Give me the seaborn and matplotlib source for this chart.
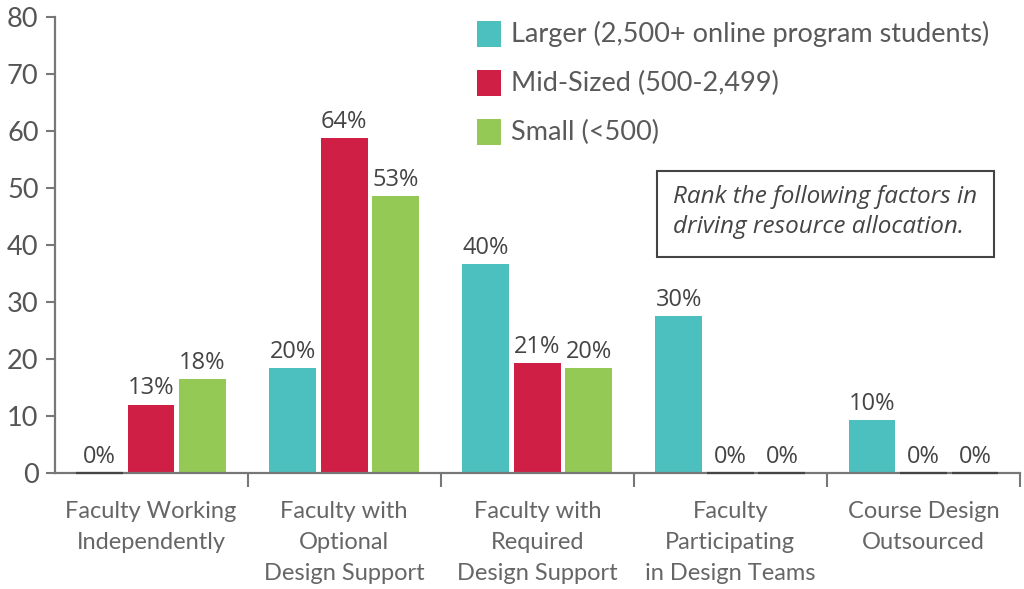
import matplotlib
matplotlib.use("Agg")
import matplotlib.pyplot as plt
import seaborn as sns
import pandas as pd
from matplotlib.ticker import FixedLocator

categories = ["Faculty Working\nIndependently",
              "Faculty with\nOptional\nDesign Support",
              "Faculty with\nRequired\nDesign Support",
              "Faculty\nParticipating\nin Design Teams",
              "Course Design\nOutsourced"]
groups = ["Larger (2,500+ online program students)",
          "Mid-Sized (500-2,499)",
          "Small (<500)"]
larger = [0, 18.4, 36.7, 27.5, 9.3]
mid = [12.0, 58.8, 19.3, 0, 0]
small = [16.5, 48.6, 18.4, 0, 0]
larger_labels = ["0%", "20%", "40%", "30%", "10%"]
mid_labels = ["13%", "64%", "21%", "0%", "0%"]
small_labels = ["18%", "53%", "20%", "0%", "0%"]
yticks = [0, 10, 20, 30, 40, 50, 60, 70, 80]
note = "Rank the following factors in\ndriving resource allocation."

colors = ["#4BC0BE", "#CF1F45", "#95C955"]

rows = []
for g, vals in zip(groups, [larger, mid, small]):
    for c, v in zip(categories, vals):
        rows.append({"category": c, "group": g, "value": v})
df = pd.DataFrame(rows)

sns.set_style("white")
plt.rcParams["font.family"] = ["Lato", "DejaVu Sans"]

fig = plt.figure(figsize=(10.24, 5.89), dpi=100)
ax = fig.add_axes([54.5 / 1024, (589 - 473) / 589, (1020 - 54.5) / 1024, (473 - 17) / 589])

sns.barplot(data=df, x="category", y="value", hue="group", palette=colors,
            width=0.8, gap=0.09, order=categories, hue_order=groups,
            saturation=1, ax=ax, legend=False, linewidth=0)

ax.set_xlim(-0.5, 4.5)
ax.set_ylim(0, 80)
ax.set_xlabel("")
ax.set_ylabel("")

for sp in ["top", "right"]:
    ax.spines[sp].set_visible(False)
for sp in ["left", "bottom"]:
    ax.spines[sp].set_color("#777777")
    ax.spines[sp].set_linewidth(1.6)

ax.set_yticks(yticks)
ax.set_yticklabels([str(t) for t in yticks])
ax.tick_params(axis="y", direction="out", length=6.5, width=1.5, color="#777777",
               labelsize=19.5, labelcolor="#555555", pad=5, left=True)
ax.tick_params(axis="x", which="major", length=0, pad=20, labelsize=17,
               labelcolor="#666666")
for lab in ax.get_xticklabels():
    lab.set_linespacing(1.6)
ax.xaxis.set_minor_locator(FixedLocator([0.5, 1.5, 2.5, 3.5, 4.5]))
ax.tick_params(axis="x", which="minor", direction="out", length=10, width=1.5,
               color="#777777", bottom=True)

label_sets = [larger_labels, mid_labels, small_labels]
for cont, labs in zip(ax.containers, label_sets):
    for bar, lab in zip(cont, labs):
        x = bar.get_x() + bar.get_width() / 2
        h = bar.get_height()
        if h == 0:
            ax.plot([bar.get_x(), bar.get_x() + bar.get_width()], [0, 0],
                    color="#444444", lw=1.6, solid_capstyle="butt", zorder=5, clip_on=False)
        ax.annotate(lab, (x, h), xytext=(0, 3), textcoords="offset points",
                    ha="center", va="bottom", fontsize=17, color="#444444",
                    family=["Open Sans", "DejaVu Sans"])

# legend
for i, (g, c) in enumerate(zip(groups, colors)):
    yc = 34 + i * 49
    fig.patches.append(plt.Rectangle((477 / 1024, 1 - (yc + 13) / 589), 24 / 1024, 26 / 589,
                                     transform=fig.transFigure, facecolor=c, edgecolor="none"))
    fig.text(511 / 1024, 1 - yc / 589, g, fontsize=19.5, color="#5a5a5a",
             va="center", ha="left")

# note box
fig.patches.append(plt.Rectangle((657 / 1024, 1 - 257 / 589), (994 - 657) / 1024, (257 - 171) / 589,
                                 transform=fig.transFigure, facecolor="white",
                                 edgecolor="#444444", linewidth=1.5))
fig.text(673 / 1024, 1 - 212 / 589, note, fontsize=17.5, style="italic", color="#444444",
         va="center", ha="left", linespacing=1.3, family=["Open Sans", "DejaVu Sans"])

fig.savefig("out.png", dpi=100)
